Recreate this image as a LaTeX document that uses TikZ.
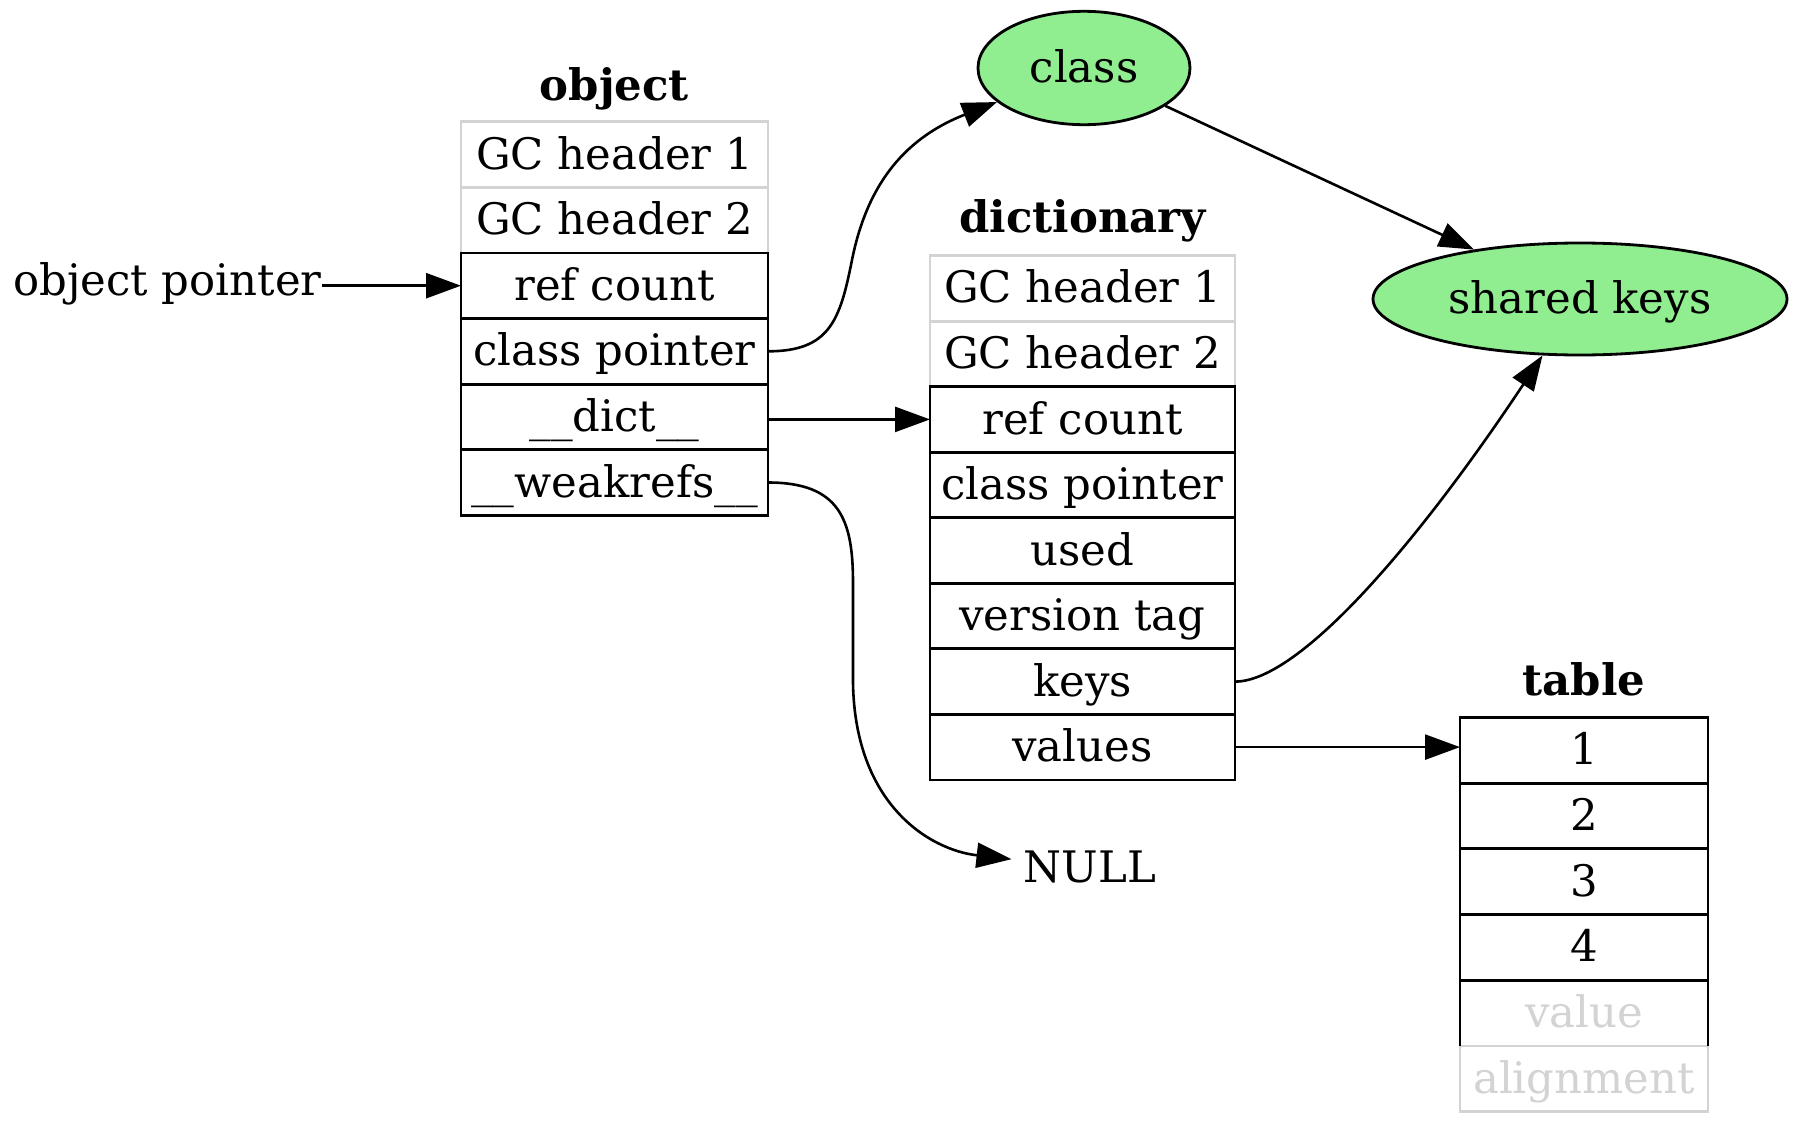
\documentclass[tikz,border=0pt]{standalone}
\usepackage{fontspec}
\setmainfont{DejaVu Serif}
\usetikzlibrary{shapes.geometric,arrows.meta}
\definecolor{lgray}{HTML}{D3D3D3}
\definecolor{lgreen}{HTML}{90EE90}
\begin{document}
\begin{tikzpicture}[x=0.5pt,y=-0.5pt,
  font=\fontsize{21.7}{26}\selectfont,
  txt/.style={inner sep=0pt, text height=16pt, text depth=1.4pt},
  box/.style={txt, rectangle, outer sep=0pt, minimum height=32.8pt, line width=1.4pt},
  ocell/.style={box, minimum width=153.5pt},
  dcell/.style={box, minimum width=152.5pt},
  tcell/.style={box, minimum width=124pt},
  blk/.style={draw=black},
  gry/.style={draw=lgray},
  title/.style={txt, font=\fontsize{21.7}{26}\selectfont\bfseries},
  blob/.style={txt, ellipse, draw=black, fill=lgreen, line width=1.4pt},
  arr/.style={line width=1.3pt, -{Triangle[length=17.5pt, width=12.5pt]}},
  lnk/.style={line width=1.4pt}
]
\path[use as bounding box] (0,0) rectangle (1800,1135);

% ---- object ----
\node[title] (otitle) at (614.5,86) {object};
\node[ocell,gry] (o1) at (614.5,154.5) {GC header 1};
\node[ocell,gry] (o2) at (614.5,220.1) {GC header 2};
\node[ocell,blk] (o3) at (614.5,285.7) {ref count};
\node[ocell,blk] (o4) at (614.5,351.3) {class pointer};
\node[ocell,blk] (o5) at (614.5,416.9) {\_\_dict\_\_};
\node[ocell,blk] (o6) at (614.5,482.5) {\_\_weakrefs\_\_};

% ---- dictionary ----
\node[title] (dtitle) at (1082.5,218) {dictionary};
\node[dcell,gry] (d1) at (1082.5,288.3) {GC header 1};
\node[dcell,gry] (d2) at (1082.5,353.8) {GC header 2};
\node[dcell,blk] (d3) at (1082.5,419.4) {ref count};
\node[dcell,blk] (d4) at (1082.5,484.9) {class pointer};
\node[dcell,blk] (d5) at (1082.5,550.5) {used};
\node[dcell,blk] (d6) at (1082.5,616.0) {version tag};
\node[dcell,blk] (d7) at (1082.5,681.6) {keys};
\node[dcell,blk] (d8) at (1082.5,747.1) {values};

% ---- table ----
\node[title] (ttitle) at (1584,680.5) {table};
\node[tcell,gry,text=lgray] (t6) at (1584,1078.7) {alignment};
\node[tcell,text=lgray] (t5) at (1584,1013) {value};
\draw[lnk] (t5.south west) -- (t5.north west) -- (t5.north east) -- (t5.south east);
\node[tcell,blk] (t1) at (1584,750.3) {1};
\node[tcell,blk] (t2) at (1584,816) {2};
\node[tcell,blk] (t3) at (1584,881.7) {3};
\node[tcell,blk] (t4) at (1584,947.3) {4};

% ---- free labels and ellipses ----
\node[txt] (optr) at (167.5,280.5) {object pointer};
\node[txt, inner xsep=6pt] (null) at (1090,868) {NULL};
\node[blob, minimum width=106pt, minimum height=56.7pt] (class) at (1084,68) {class};
\node[blob, minimum width=207pt, minimum height=56pt] (shared) at (1580,299) {shared keys};

% ---- pointers ----
\draw[arr] (optr.east |- o3) -- (o3.west);
\draw[arr] (o4.east) .. controls (830,351.3) and (840,320) .. (852,260)
                     .. controls (866,190) and (900,140) .. (class);
\draw[arr] (o5.east |- d3) -- (d3.west);
\draw[arr] (o6.east) .. controls (840,482.5) and (853,520) .. (853,583) -- (853,683)
                     .. controls (855,805) and (930,850) .. (null);
\draw[arr] (class) -- (shared);
\draw[arr] (d7.east) .. controls (1300,681.6) and (1420,540) .. (shared);
\draw[arr] (d8.east) -- (d8.east -| t1.west);
\end{tikzpicture}
\end{document}
